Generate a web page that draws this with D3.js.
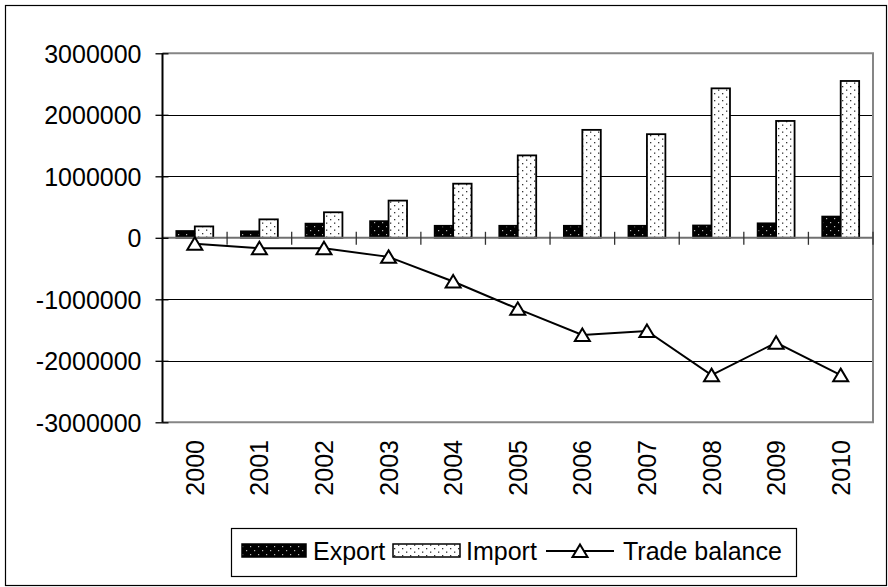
<!DOCTYPE html>
<html>
<head>
<meta charset="utf-8">
<script src="https://cdn.jsdelivr.net/npm/d3@7"></script>
<style>
  html, body { margin: 0; padding: 0; background: #fff; }
  svg { display: block; }
  text { font-family: "Liberation Sans", Arial, sans-serif; fill: #000; }
</style>
</head>
<body>
<svg id="chart" width="888" height="587"></svg>
<script>
const years = ["2000","2001","2002","2003","2004","2005","2006","2007","2008","2009","2010"];
const exportValues = [110000, 105000, 230000, 270000, 195000, 195000, 195000, 195000, 200000, 235000, 345000];
const importValues = [185000, 300000, 415000, 605000, 880000, 1340000, 1755000, 1685000, 2430000, 1900000, 2550000];
const balanceValues = [-95000, -170000, -170000, -310000, -710000, -1155000, -1580000, -1515000, -2233000, -1705000, -2233000];
const yTicks = [-3000000, -2000000, -1000000, 0, 1000000, 2000000, 3000000];
const seriesNames = ["Export", "Import", "Trade balance"];

(function () {
const svg = d3.select("#chart");
const FS = 25;

// patterns
const defs = svg.append("defs");
const pe = defs.append("pattern").attr("id","expPat").attr("patternUnits","userSpaceOnUse")
  .attr("width",8).attr("height",8);
pe.append("rect").attr("width",8).attr("height",8).attr("fill","#000");
pe.append("rect").attr("x",2).attr("y",2).attr("width",1.2).attr("height",1.2).attr("fill","#bbb");
pe.append("rect").attr("x",6).attr("y",6).attr("width",1.2).attr("height",1.2).attr("fill","#bbb");
const pi = defs.append("pattern").attr("id","impPat").attr("patternUnits","userSpaceOnUse")
  .attr("width",8).attr("height",7);
pi.append("rect").attr("width",8).attr("height",7).attr("fill","#fff");
pi.append("rect").attr("x",2).attr("y",2).attr("width",1.3).attr("height",1.3).attr("fill","#333");
pi.append("rect").attr("x",6).attr("y",5.5).attr("width",1.3).attr("height",1.3).attr("fill","#333");

// outer border
svg.append("rect").attr("x",5.5).attr("y",5.5).attr("width",881).attr("height",580)
  .attr("fill","none").attr("stroke","#000").attr("stroke-width",1.2);

const pLeft = 162.5, pRight = 873, pTop = 53.3, pBottom = 422.3;
const x = d3.scaleBand().domain(years).range([pLeft, pRight]).paddingInner(0).paddingOuter(0);
const y = d3.scaleLinear().domain([-3000000, 3000000]).range([pBottom, pTop]);

// gridlines
svg.append("g").selectAll("line").data(yTicks.filter(t => t !== 0 && Math.abs(t) !== 3000000))
  .join("line")
  .attr("x1", pLeft).attr("x2", pRight)
  .attr("y1", d => Math.round(y(d)) + 0.5).attr("y2", d => Math.round(y(d)) + 0.5)
  .attr("stroke", "#000").attr("stroke-width", 1);

// plot border (top, right, bottom) gray
svg.append("path")
  .attr("d", `M${pLeft},${y(3000000)}H${pRight}V${y(-3000000)}H${pLeft}`)
  .attr("fill","none").attr("stroke","#868686").attr("stroke-width",2);

// bars
const bw = x.bandwidth();
const barW = bw / 3.5;
const g = svg.append("g");
g.selectAll("rect.exp").data(years).join("rect").attr("class","exp")
  .attr("x", d => x(d) + bw/2 - barW)
  .attr("width", barW)
  .attr("y", (d,i) => y(exportValues[i]))
  .attr("height", (d,i) => y(0) - y(exportValues[i]))
  .attr("fill","url(#expPat)").attr("stroke","#000").attr("stroke-width",1.8);
g.selectAll("rect.imp").data(years).join("rect").attr("class","imp")
  .attr("x", d => x(d) + bw/2)
  .attr("width", barW)
  .attr("y", (d,i) => y(importValues[i]))
  .attr("height", (d,i) => y(0) - y(importValues[i]))
  .attr("fill","url(#impPat)").attr("stroke","#000").attr("stroke-width",1.8);

// x axis at zero
const xAxisG = svg.append("g");
xAxisG.append("line").attr("x1", pLeft).attr("x2", pRight).attr("y1", y(0)).attr("y2", y(0))
  .attr("stroke","#707070").attr("stroke-width",2);
xAxisG.selectAll("line.tk").data(years.slice(1).concat(["__end"])).join("line").attr("class","tk")
  .attr("x1", d => d === "__end" ? pRight : x(d)).attr("x2", d => d === "__end" ? pRight : x(d))
  .attr("y1", y(0) - 6).attr("y2", y(0) + 7)
  .attr("stroke","#333").attr("stroke-width",1.3);

// y axis
const yAxis = d3.axisLeft(y).tickValues(yTicks).tickSize(0).tickPadding(20).tickFormat(d => String(d));
const yG = svg.append("g").attr("transform", `translate(${pLeft},0)`).call(yAxis);
yG.select(".domain").remove();
yG.selectAll("text").attr("font-size", FS).attr("font-family", '"Liberation Sans", Arial, sans-serif')
  .attr("fill","#000").attr("x", -21).attr("dy","0.36em");
yG.selectAll(".tick").append("line").attr("x1",-7).attr("x2",6).attr("stroke","#000").attr("stroke-width",1.3);
svg.append("line").attr("x1", pLeft).attr("x2", pLeft).attr("y1", pTop).attr("y2", pBottom)
  .attr("stroke","#000").attr("stroke-width",2);

// x labels rotated
svg.append("g").selectAll("text").data(years).join("text")
  .attr("transform", d => `translate(${x(d) + bw/2},440) rotate(-90)`)
  .attr("text-anchor","end").attr("dy","0.36em")
  .attr("font-size", FS).text(d => d);

// trade balance line
const line = d3.line().x((d,i) => x(years[i]) + bw/2).y(d => y(d));
svg.append("path").datum(balanceValues).attr("d", line)
  .attr("fill","none").attr("stroke","#000").attr("stroke-width",2);
const tri = "M0,-6.5L7.5,6L-7.5,6Z";
svg.append("g").selectAll("path").data(balanceValues).join("path")
  .attr("transform", (d,i) => `translate(${x(years[i]) + bw/2},${y(d)})`)
  .attr("d", tri).attr("fill","#fff").attr("stroke","#000").attr("stroke-width",2);

// legend
const lg = svg.append("g");
lg.append("rect").attr("x",231.5).attr("y",528.5).attr("width",565).attr("height",48)
  .attr("fill","#fff").attr("stroke","#000").attr("stroke-width",1.2);
const ly = 551;
lg.append("rect").attr("x",242).attr("y",ly-7).attr("width",64).attr("height",13)
  .attr("fill","url(#expPat)").attr("stroke","#000").attr("stroke-width",1.5);
lg.append("text").attr("x",313).attr("y",ly).attr("dy","0.36em").attr("font-size",FS).text(seriesNames[0]);
lg.append("rect").attr("x",393).attr("y",ly-7).attr("width",67).attr("height",13)
  .attr("fill","url(#impPat)").attr("stroke","#000").attr("stroke-width",1.5);
lg.append("text").attr("x",466).attr("y",ly).attr("dy","0.36em").attr("font-size",FS).text(seriesNames[1]);
lg.append("line").attr("x1",546).attr("x2",614).attr("y1",ly).attr("y2",ly)
  .attr("stroke","#000").attr("stroke-width",2);
lg.append("path").attr("transform",`translate(580,${ly})`).attr("d",tri)
  .attr("fill","#fff").attr("stroke","#000").attr("stroke-width",2);
lg.append("text").attr("x",623).attr("y",ly).attr("dy","0.36em").attr("font-size",FS).text(seriesNames[2]);
})();
</script>
</body>
</html>
